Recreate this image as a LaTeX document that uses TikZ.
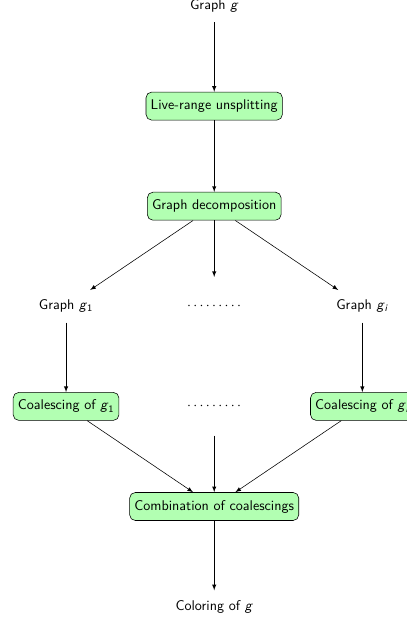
\documentclass[tikz,border=0pt]{standalone}
\usetikzlibrary{arrows}
\newcommand{\gvar}{\textsl{g}}
\newcommand{\gsub}[1]{\textsl{g}\textsubscript{#1}}
\begin{document}
\begin{tikzpicture}[
  font=\sffamily,
  stage/.style={draw, rounded corners=4pt, fill=green!30, minimum height=0.7cm},
  plain/.style={minimum height=0.8cm},
  gap/.style={minimum height=1.45cm},
  flow/.style={-latex}
  ]
\useasboundingbox (-5.35,0.15) rectangle (4.80,-15.36);

\node[plain] (g) at (0,0) {Graph \gvar};
\node[stage] (unsplit) at (0,-2.5) {Live-range unsplitting};
\node[stage] (decomp) at (0,-5) {Graph decomposition};

\node[plain] (g1) at (-3.7,-7.5) {Graph \gsub{1}};
\node[gap] (dotsA) at (0,-7.5) {$\cdots\cdots\cdots$};
\node[plain] (gi) at (3.7,-7.5) {Graph \gsub{\textsl{i}}};

\node[stage] (coal1) at (-3.7,-10) {Coalescing of \gsub{1}};
\node[gap] (dotsB) at (0,-10) {$\cdots\cdots\cdots$};
\node[stage] (coali) at (3.7,-10) {Coalescing of \gsub{\textsl{i}}};

\node[stage] (combine) at (0,-12.5) {Combination of coalescings};
\node[plain] (color) at (0,-15) {Coloring of \gvar};

\draw[flow] (g) -- (unsplit);
\draw[flow] (unsplit) -- (decomp);

\draw[flow] (decomp) -- (g1);
\draw[flow] (decomp) -- (dotsA);
\draw[flow] (decomp) -- (gi);

\draw[flow] (g1) -- (coal1);
\draw[flow] (gi) -- (coali);

\draw[flow] (coal1) -- (combine);
\draw[flow] (dotsB) -- (combine);
\draw[flow] (coali) -- (combine);

\draw[flow] (combine) -- (color);
\end{tikzpicture}
\end{document}
